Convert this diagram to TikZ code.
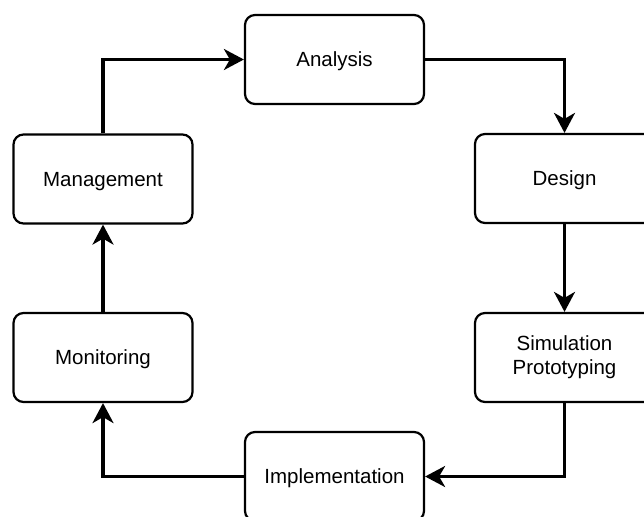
\documentclass[tikz,border=0pt]{standalone}
\usepackage{fontspec}
\setmainfont{Liberation Sans}
\usetikzlibrary{arrows.meta}
\tikzset{
    stage/.style={draw, line width=2.2pt, rounded corners=10pt, fill=white,
        minimum width=179pt, minimum height=89pt, align=center,
        text height=18pt, text depth=3.3pt,
        font=\fontsize{20.5}{24}\selectfont},
    twoline/.style={text height={}, text depth={}},
    flow/.style={line width=3.2pt, -{Stealth[length=20pt, width=21pt, inset=6pt]}}
}
\begin{document}
\begin{tikzpicture}[x=1pt, y=-1pt]
        \useasboundingbox (0,0) rectangle (644,516);
        \clip (0,0) rectangle (644,516);
        % stages of the cycle
        \node[stage] (ana) at (334.5,59.5) {Analysis};
        \node[stage] (des) at (564.5,178.5) {Design};
        \node[stage, twoline] (sim) at (564.5,357.5) {Simulation\\Prototyping};
        \node[stage] (imp) at (334.5,476.5) {Implementation};
        \node[stage] (mon) at (103,357.5) {Monitoring};
        \node[stage] (mgt) at (103,179) {Management};
        % connectors
        \draw[flow] (mgt.north) |- (ana.west);
        \draw[flow] (ana.east) -| (des.north);
        \draw[flow] (des) -- (sim);
        \draw[flow] (sim.south) |- (imp.east);
        \draw[flow] (imp.west) -| (mon.south);
        \draw[flow] (mon) -- (mgt);
\end{tikzpicture}
\end{document}
